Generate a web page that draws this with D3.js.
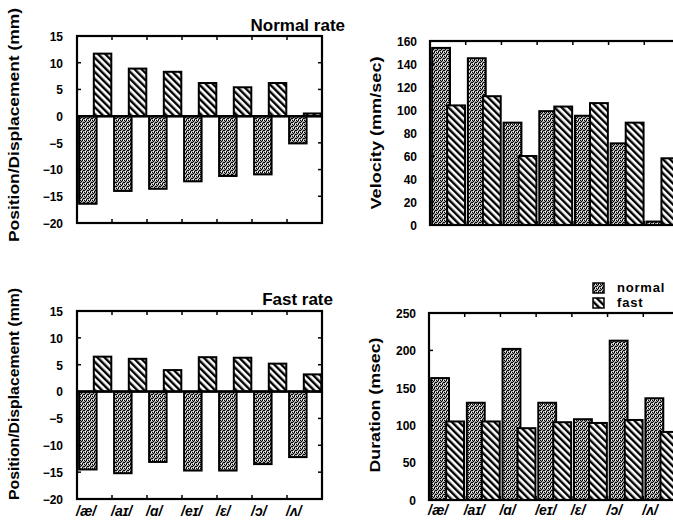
<!DOCTYPE html>
<html>
<head>
<meta charset="utf-8">
<script src="https://cdn.jsdelivr.net/npm/d3@7"></script>
<style>
  body { margin: 0; background: #fff; }
  svg { display: block; font-family: "Liberation Sans", Arial, sans-serif; font-weight: bold; }
</style>
</head>
<body>
<div id="chart"></div>
<script>
// Vowel categories
const vowels = ["/æ/", "/aɪ/", "/ɑ/", "/eɪ/", "/ɛ/", "/ɔ/", "/ʌ/"];

// Position/Displacement (mm), normal rate
const posNormal = [-16.4, -14.0, -13.6, -12.2, -11.2, -10.9, -5.1];
const dispNormal = [11.7, 8.9, 8.3, 6.2, 5.4, 6.2, 0.5];

// Position/Displacement (mm), fast rate
const posFast = [-14.5, -15.2, -13.1, -14.7, -14.7, -13.5, -12.2];
const dispFast = [6.5, 6.1, 4.0, 6.4, 6.3, 5.2, 3.2];

// Velocity (mm/sec)
const velNormal = [154, 145, 89, 99, 95, 71, 3];
const velFast = [104, 112, 60, 103, 106, 89, 58];

// Duration (msec)
const durNormal = [163, 130, 202, 130, 108, 213, 136];
const durFast = [105, 105, 96, 104, 103, 107, 91];

// Tick labels
const posTicks = [15, 10, 5, 0, -5, -10, -15, -20];
const velTicks = [160, 140, 120, 100, 80, 60, 40, 20, 0];
const durTicks = [250, 200, 150, 100, 50, 0];

const legendLabels = ["normal", "fast"];

const W = 673, H = 527;
const svg = d3.select("#chart").append("svg")
  .attr("width", W)
  .attr("height", H);

// Fill patterns: stipple for normal, diagonal hatch for fast
const defs = svg.append("defs");
const stip = defs.append("pattern").attr("id", "stipple")
  .attr("patternUnits", "userSpaceOnUse").attr("width", 4).attr("height", 4);
stip.append("rect").attr("width", 4).attr("height", 4).attr("fill", "#a8a8a8");
[[0, 0], [2, 0], [1, 1], [3, 2], [0, 2], [2, 3]].forEach(([px, py]) => {
  stip.append("rect").attr("x", px).attr("y", py).attr("width", 1).attr("height", 1).attr("fill", "#000");
});
[[1, 3], [3, 0]].forEach(([px, py]) => {
  stip.append("rect").attr("x", px).attr("y", py).attr("width", 1).attr("height", 1).attr("fill", "#fff");
});

const hatch = defs.append("pattern").attr("id", "hatch")
  .attr("patternUnits", "userSpaceOnUse").attr("width", 5).attr("height", 5)
  .attr("patternTransform", "rotate(-45)");
hatch.append("rect").attr("width", 5).attr("height", 5).attr("fill", "#fff");
hatch.append("line").attr("x1", 1.2).attr("x2", 1.2).attr("y1", 0).attr("y2", 5)
  .attr("stroke", "#000").attr("stroke-width", 2.4);

function panel(p) {
  const x = d3.scaleBand().domain(vowels).range([p.left, p.right]);
  const y = d3.scaleLinear().domain(p.domain).range([p.bottom, p.top]);
  const bw = x.bandwidth();
  const g = svg.append("g");

  const series = [
    { vals: p.a, fill: "url(#stipple)", off: 0.06 },
    { vals: p.b, fill: "url(#hatch)", off: 0.48 }
  ];
  series.forEach(s => {
    g.selectAll(null)
      .data(vowels)
      .join("rect")
      .attr("x", d => x(d) + s.off * bw)
      .attr("width", bw * 0.5)
      .attr("y", (d, i) => y(Math.max(0, s.vals[i])))
      .attr("height", (d, i) => Math.abs(y(s.vals[i]) - y(0)))
      .attr("fill", s.fill)
      .attr("stroke", "#000")
      .attr("stroke-width", 2);
  });

  // zero line
  if (p.domain[0] < 0) {
    g.append("line")
      .attr("x1", p.left).attr("x2", p.right)
      .attr("y1", y(0)).attr("y2", y(0))
      .attr("stroke", "#000").attr("stroke-width", 2.5);
  }

  // frame
  g.append("rect")
    .attr("x", p.left).attr("y", p.top)
    .attr("width", p.right - p.left).attr("height", p.bottom - p.top)
    .attr("fill", "none").attr("stroke", "#000").attr("stroke-width", 2.2);

  // inward ticks
  const inner = p.ticks.filter(t => t !== p.domain[0] && t !== p.domain[1]);
  [p.left, p.right].forEach((xx, k) => {
    g.selectAll(null).data(inner).join("line")
      .attr("x1", xx).attr("x2", xx + (k === 0 ? 4 : -4))
      .attr("y1", d => y(d)).attr("y2", d => y(d))
      .attr("stroke", "#000").attr("stroke-width", 1.5);
  });
  [p.top, p.bottom].forEach((yy, k) => {
    g.selectAll(null).data(vowels.slice(1)).join("line")
      .attr("x1", d => x(d)).attr("x2", d => x(d))
      .attr("y1", yy).attr("y2", yy + (k === 0 ? 4 : -4))
      .attr("stroke", "#000").attr("stroke-width", 1.5);
  });

  // y tick labels
  const ya = g.append("g")
    .attr("transform", `translate(${p.left},0)`)
    .call(d3.axisLeft(y).tickValues(p.ticks).tickSize(0).tickPadding(p.pad));
  ya.attr("font-family", null).attr("font-size", 12);
  ya.select(".domain").remove();
  ya.selectAll("text").attr("fill", "#000").attr("dy", "0.36em");

  // y title
  g.append("text")
    .attr("transform", `translate(${p.tx},${p.ty}) rotate(-90)`)
    .attr("text-anchor", "middle")
    .attr("dy", "0.35em")
    .attr("font-size", 15)
    .attr("textLength", p.tlen)
    .attr("lengthAdjust", "spacingAndGlyphs")
    .text(p.title);

  // x labels
  if (p.xlabels) {
    g.selectAll(null).data(vowels).join("text")
      .attr("x", d => x(d) - 1)
      .attr("y", p.xly)
      .attr("font-size", 14)
      .attr("font-style", "italic")
      .text(d => d);
  }
  return { x, y };
}

panel({ left: 77, right: 322, top: 36, bottom: 223, domain: [-20, 15], ticks: posTicks,
  a: posNormal, b: dispNormal, pad: 14, title: "Position/Displacement (mm)",
  tx: 14, ty: 125, tlen: 234 });
panel({ left: 77, right: 322, top: 311, bottom: 499, domain: [-20, 15], ticks: posTicks,
  a: posFast, b: dispFast, pad: 14, title: "Position/Displacement (mm)",
  tx: 14, ty: 394, tlen: 212, xlabels: true, xly: 516 });
panel({ left: 430, right: 680, top: 41, bottom: 225, domain: [0, 160], ticks: velTicks,
  a: velNormal, b: velFast, pad: 13, title: "Velocity (mm/sec)",
  tx: 376, ty: 133, tlen: 153 });
panel({ left: 429, right: 679, top: 313, bottom: 500, domain: [0, 250], ticks: durTicks,
  a: durNormal, b: durFast, pad: 13, title: "Duration (msec)",
  tx: 375, ty: 405, tlen: 135, xlabels: true, xly: 515 });

// panel titles
svg.append("text").attr("x", 345).attr("y", 31).attr("text-anchor", "end")
  .attr("font-size", 17).text("Normal rate");
svg.append("text").attr("x", 333).attr("y", 305).attr("text-anchor", "end")
  .attr("font-size", 17).text("Fast rate");

// legend
const legend = svg.append("g");
const fills = ["url(#stipple)", "url(#hatch)"];
legend.selectAll("rect").data(legendLabels).join("rect")
  .attr("x", 593).attr("y", (d, i) => 283 + i * 15)
  .attr("width", 11).attr("height", 10)
  .attr("fill", (d, i) => fills[i]).attr("stroke", "#000").attr("stroke-width", 1.5);
legend.selectAll("text").data(legendLabels).join("text")
  .attr("x", 617).attr("y", (d, i) => 292 + i * 15)
  .attr("font-size", 13)
  .attr("letter-spacing", 0.8)
  .text(d => d);
</script>
</body>
</html>
